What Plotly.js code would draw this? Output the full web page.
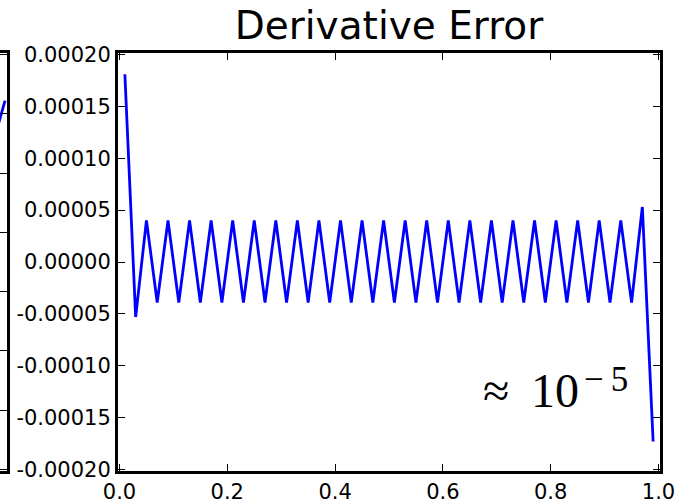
<!DOCTYPE html>
<html>
<head>
<meta charset="utf-8">
<script src="https://cdn.plot.ly/plotly-3.0.1.min.js"></script>
<style>html,body{margin:0;padding:0;background:#fff;}#chart{width:683px;height:503px;}</style>
</head>
<body>
<div id="chart"></div>
<script>
// Main panel: derivative error samples
var xValues = [0.01,0.03,0.05,0.07,0.09,0.11,0.13,0.15,0.17,0.19,
               0.21,0.23,0.25,0.27,0.29,0.31,0.33,0.35,0.37,0.39,
               0.41,0.43,0.45,0.47,0.49,0.51,0.53,0.55,0.57,0.59,
               0.61,0.63,0.65,0.67,0.69,0.71,0.73,0.75,0.77,0.79,
               0.81,0.83,0.85,0.87,0.89,0.91,0.93,0.95,0.97,0.99];
var errValues = [1.81e-4,-5.3e-5,4.0e-5,-3.9e-5,4.0e-5,-3.9e-5,4.0e-5,-3.9e-5,4.0e-5,-3.9e-5,
                 4.0e-5,-3.9e-5,4.0e-5,-3.9e-5,4.0e-5,-3.9e-5,4.0e-5,-3.9e-5,4.0e-5,-3.9e-5,
                 4.0e-5,-3.9e-5,4.0e-5,-3.9e-5,4.0e-5,-3.9e-5,4.0e-5,-3.9e-5,4.0e-5,-3.9e-5,
                 4.0e-5,-3.9e-5,4.0e-5,-3.9e-5,4.0e-5,-3.9e-5,4.0e-5,-3.9e-5,4.0e-5,-3.9e-5,
                 4.0e-5,-3.9e-5,4.0e-5,-3.9e-5,4.0e-5,-3.9e-5,4.0e-5,-3.9e-5,5.3e-5,-1.73e-4];
var yTickVals = [0.0002,0.00015,0.0001,0.00005,0,-0.00005,-0.0001,-0.00015,-0.0002];
var yTickText = ["0.00020","0.00015","0.00010","0.00005","0.00000","-0.00005","-0.00010","-0.00015","-0.00020"];
var xTickVals = [0,0.2,0.4,0.6,0.8,1.0];
var xTickText = ["0.0","0.2","0.4","0.6","0.8","1.0"];

// Left neighbouring panel (only its right edge is visible)
var leftX = [0.97, 0.9964];
var leftY = [5.37, 6.22];
var leftXTickVals = [1.0];
var leftXTickText = ["1.0"];
var leftYTickVals = [0,1,2,3,4,5,6,7];

var titleText = "Derivative Error";
var noteBase = "≈\u2009 10";
var noteExp = "−\u20095";

var W = 660; // plot area width (margin l=0, r=23)
var axCommon = {
  showline: true, linecolor: "#000", linewidth: 3, mirror: "ticks",
  ticks: "inside", ticklen: 7, tickwidth: 1, tickcolor: "#000",
  showgrid: false, zeroline: false,
  tickfont: {family: "DejaVu Sans", size: 21, color: "#000"}
};
function ax(extra){ var o = {}; for (var k in axCommon) o[k] = axCommon[k]; for (var k2 in extra) o[k2] = extra[k2]; return o; }

var traces = [
  {x: xValues, y: errValues, type: "scatter", mode: "lines",
   line: {color: "#0000ff", width: 2.8}, xaxis: "x", yaxis: "y", hoverinfo: "skip"},
  {x: leftX, y: leftY, type: "scatter", mode: "lines",
   line: {color: "#0000ff", width: 2.8}, xaxis: "x2", yaxis: "y2", hoverinfo: "skip"}
];

var layout = {
  width: 683, height: 503,
  margin: {l: 0, r: 23, t: 53, b: 32, pad: 0},
  paper_bgcolor: "#fff", plot_bgcolor: "#fff",
  showlegend: false,
  title: {text: titleText, font: {family: "DejaVu Sans", size: 39, color: "#000"},
          xref: "paper", x: (118 / W + 1) / 2, xanchor: "center",
          yref: "container", y: 1 - 25 / 503, yanchor: "middle"},
  xaxis: ax({domain: [118 / W, 1], range: [-1.5 / 545, 1 + 1.5 / 545],
             tickvals: xTickVals, ticktext: xTickText, anchor: "y"}),
  yaxis: ax({domain: [0, 1], range: [-0.0002 - 1.5 / 1.05e6, 0.0002 + 1.5 / 1.05e6],
             tickvals: yTickVals, ticktext: yTickText, anchor: "x"}),
  xaxis2: ax({domain: [0, 7 / W], range: [1 - 7 / 545, 1.0],
              tickvals: leftXTickVals, ticktext: leftXTickText, anchor: "y2"}),
  yaxis2: ax({domain: [0, 1], range: [-0.025, 7.025],
              tickvals: leftYTickVals, showticklabels: false, anchor: "x2"}),
  annotations: [
    {text: noteBase, xref: "x", yref: "y", x: 0.856, y: -0.0001235,
     xanchor: "right", yanchor: "middle", showarrow: false,
     font: {family: "Liberation Serif", size: 48, color: "#000"}},
    {text: noteExp, xref: "x", yref: "y", x: 0.8573, y: -0.0001135,
     xanchor: "left", yanchor: "middle", showarrow: false,
     font: {family: "Liberation Serif", size: 35, color: "#000"}}
  ]
};

Plotly.newPlot("chart", traces, layout, {staticPlot: true, displayModeBar: false});
</script>
</body>
</html>
